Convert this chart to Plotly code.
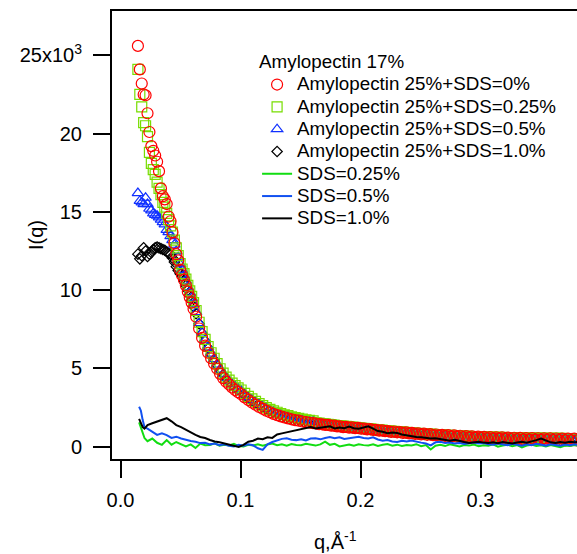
# SANS curves: Amylopectin 25% with SDS, plus SDS-only baselines
import plotly.graph_objects as go

# q grid of the sample curves (1/A)
q_pts = [0.0145, 0.0161, 0.0177, 0.0193, 0.0209, 0.0225, 0.0241, 0.0257, 0.0273, 0.0289,
         0.0305, 0.0321, 0.0337, 0.0353, 0.0369, 0.0385, 0.0401, 0.0417, 0.0433, 0.0449,
         0.0465, 0.0481, 0.0497, 0.0513, 0.0529, 0.0545, 0.0561, 0.0577, 0.0593, 0.0609,
         0.0630, 0.0655, 0.0680, 0.0705, 0.0730, 0.0755, 0.0780, 0.0805, 0.0830, 0.0855,
         0.0880, 0.0905, 0.0930, 0.0955, 0.0980, 0.1005, 0.1035, 0.1065, 0.1095, 0.1125,
         0.1155, 0.1185, 0.1215, 0.1245, 0.1275, 0.1305, 0.1335, 0.1365, 0.1395, 0.1425,
         0.1455, 0.1485, 0.1515, 0.1545, 0.1575, 0.1605,
         0.163, 0.1655, 0.168, 0.1705, 0.173, 0.1755, 0.178, 0.1805, 0.183, 0.1855,
         0.188, 0.1905, 0.193, 0.1955, 0.198, 0.2005, 0.203, 0.2055, 0.208, 0.2105,
         0.213, 0.2155, 0.218, 0.2205, 0.223, 0.2255, 0.228, 0.2305, 0.233, 0.2355,
         0.238, 0.2405, 0.243, 0.2455, 0.248, 0.2505, 0.253, 0.2555, 0.258, 0.2605,
         0.263, 0.2655, 0.268, 0.2705, 0.273, 0.2755, 0.278, 0.2805, 0.283, 0.2855,
         0.288, 0.2905, 0.293, 0.2955, 0.298, 0.3005, 0.303, 0.3055, 0.308, 0.3105,
         0.313, 0.3155, 0.318, 0.3205, 0.323, 0.3255, 0.328, 0.3305, 0.333, 0.3355,
         0.338, 0.3405, 0.343, 0.3455, 0.348, 0.3505, 0.353, 0.3555, 0.358, 0.3605,
         0.363, 0.3655, 0.368, 0.3705, 0.373, 0.3755, 0.378, 0.3805]

sds_0 = [25600, 24100, 23200, 22500, 22450, 21300, 20100, 19200, 18900, 18600,
         18200, 17600, 16500, 16000, 15800, 15500, 14700, 14400, 13700, 13000,
         12300, 11900, 11300, 10950, 10650, 10300, 9900, 9550, 9200, 8800,
         8300, 7550, 6950, 6450, 6000, 5650, 5300, 4980, 4650, 4380,
         4150, 3970, 3780, 3620, 3480, 3350, 3150, 2980, 2820, 2680,
         2540, 2420, 2300, 2200, 2100, 2020, 1940, 1870, 1810, 1750,
         1700, 1660, 1610, 1570, 1530, 1500,
         1480, 1440, 1430, 1390, 1390, 1340, 1340, 1300, 1300, 1250,
         1260, 1220, 1230, 1180, 1200, 1150, 1160, 1110, 1120, 1070,
         1080, 1030, 1040, 990, 1000, 950, 970, 920, 940, 880,
         910, 850, 880, 820, 850, 790, 830, 760, 800, 740,
         780, 710, 760, 690, 740, 660, 720, 640, 700, 620,
         680, 600, 660, 580, 640, 560, 630, 550, 610, 530,
         600, 520, 590, 500, 580, 490, 570, 480, 560, 470,
         550, 460, 545, 450, 540, 440, 535, 430, 530, 425,
         525, 420, 520, 410, 515, 410, 510, 400]

sds_025 = [24100, 22500, 21700, 20700, 20500, 19800, 18800, 18100, 17700, 17400,
           16900, 16500, 16100, 15600, 15300, 14900, 14500, 14100, 13700, 13200,
           12700, 12200, 11700, 11350, 11050, 10700, 10300, 9950, 9600, 9200,
           8700, 7950, 7350, 6850, 6400, 6000, 5650, 5300, 4980, 4700,
           4450, 4250, 4060, 3900, 3760, 3620, 3400, 3220, 3050, 2900,
           2750, 2620, 2500, 2390, 2290, 2200, 2120, 2040, 1980, 1910,
           1860, 1810, 1760, 1720, 1680, 1650,
           1530, 1505, 1480, 1455, 1430, 1405, 1380, 1355, 1335, 1315,
           1295, 1275, 1255, 1235, 1215, 1195, 1175, 1155, 1135, 1115,
           1095, 1075, 1055, 1035, 1015, 995, 978, 961, 944, 927,
           910, 895, 880, 865, 850, 836, 823, 810, 798, 786,
           774, 762, 750, 739, 728, 717, 707, 697, 687, 678,
           669, 660, 652, 644, 637, 630, 623, 617, 611, 605,
           600, 595, 590, 585, 580, 576, 572, 568, 564, 560,
           557, 554, 551, 548, 545, 542, 539, 537, 535, 533,
           531, 529, 527, 525, 523, 521, 520, 518]

sds_05 = [16200, 15700, 15600, 15500, 15900, 15500, 15200, 15100, 14900, 14800,
          14750, 14650, 14500, 14350, 14200, 13850, 13700, 13450, 13200, 12900,
          12500, 12100, 11650, 11300, 10950, 10600, 10200, 9850, 9500, 9100,
          8600, 7900, 7300, 6800, 6350, 5950, 5600, 5250, 4930, 4650,
          4400, 4200, 4010, 3850, 3710, 3570, 3350, 3170, 3000, 2850,
          2700, 2570, 2450, 2340, 2240, 2150, 2070, 1990, 1930, 1860,
          1810, 1760, 1710, 1670, 1630, 1600,
          1515, 1490, 1465, 1440, 1415, 1390, 1365, 1340, 1320, 1300,
          1280, 1260, 1240, 1220, 1200, 1180, 1160, 1140, 1120, 1100,
          1080, 1060, 1040, 1020, 1000, 980, 963, 946, 929, 912,
          895, 880, 865, 850, 835, 821, 808, 795, 783, 771,
          759, 747, 735, 724, 713, 702, 692, 682, 672, 663,
          654, 645, 637, 629, 622, 615, 608, 602, 596, 590,
          585, 580, 575, 570, 565, 561, 557, 553, 549, 545,
          542, 539, 536, 533, 530, 527, 524, 522, 520, 518,
          516, 514, 512, 510, 508, 506, 505, 503]

sds_10 = [12300, 12000, 12200, 12700, 12500, 12150, 12300, 12400, 12600, 12700,
          12750, 12700, 12650, 12600, 12550, 12450, 12350, 12300, 12050, 11800,
          11500, 11250, 11050, 10900, 10600, 10300, 10000, 9650, 9300, 8950,
          8500, 7850, 7250, 6750, 6300, 5900, 5550, 5200, 4880, 4600,
          4350, 4150, 3960, 3800, 3660, 3520, 3300, 3120, 2960, 2810,
          2670, 2540, 2420, 2310, 2210, 2120, 2040, 1960, 1900, 1830,
          1780, 1730, 1680, 1640, 1600, 1570,
          1495, 1470, 1445, 1420, 1395, 1370, 1345, 1320, 1300, 1280,
          1260, 1240, 1220, 1200, 1180, 1160, 1140, 1120, 1100, 1080,
          1060, 1040, 1020, 1000, 980, 960, 943, 926, 909, 892,
          875, 860, 845, 830, 815, 801, 788, 775, 763, 751,
          739, 727, 715, 704, 693, 682, 672, 662, 652, 643,
          634, 625, 617, 609, 602, 595, 588, 582, 576, 570,
          565, 560, 555, 550, 545, 541, 537, 533, 529, 525,
          522, 519, 516, 513, 510, 507, 504, 502, 500, 498,
          496, 494, 492, 490, 488, 486, 485, 483]

# q grid of the SDS-only solvent curves
q_sds = [0.0155, 0.0170, 0.0185, 0.0200, 0.0225, 0.0265, 0.0305, 0.0345, 0.0385, 0.0425,
         0.0465, 0.0505, 0.0545, 0.0585, 0.0625, 0.0665, 0.0705, 0.0745, 0.0785, 0.0825,
         0.0865, 0.0905, 0.0945, 0.0985, 0.1025, 0.1065, 0.1105, 0.1145, 0.1185, 0.1225,
         0.1265, 0.1305, 0.1345, 0.1385, 0.1425, 0.1465, 0.1505, 0.1545, 0.1585, 0.1625,
         0.1665, 0.1705, 0.1745, 0.1785, 0.1825, 0.1865, 0.1905, 0.1945, 0.1985, 0.2025,
         0.2065, 0.2105, 0.2145, 0.2185, 0.2225, 0.2265, 0.2305, 0.2345, 0.2385, 0.2425,
         0.2465, 0.2505, 0.2545, 0.2585, 0.2625, 0.2665, 0.2705, 0.2745, 0.2785, 0.2825,
         0.2865, 0.2905, 0.2945, 0.2985, 0.3025, 0.3065, 0.3105, 0.3145, 0.3185, 0.3225,
         0.3265, 0.3305, 0.3345, 0.3385, 0.3425, 0.3465, 0.3505, 0.3545, 0.3585, 0.3625,
         0.3665, 0.3705, 0.3745, 0.3785, 0.3825]

only_025 = [1550, 1250, 900, 550, 350, 520, 250, 120, 420, 130,
            300, 180, 20, 150, -80, 200, 90, 110, 210, 60,
            130, 80, 190, 40, 10, 120, 80, 160, 60, 140,
            200, 90, 150, 60, 170, 110, 90, 180, 120, 70,
            150, 320, 120, 180, 20, 90, 140, 60, 160, 100,
            80, 150, 50, 120, 170, 60, 130, 40, 110, 80,
            160, 30, 100, -180, 60, 120, 40, 150, 90, 20,
            110, 70, 140, 30, 90, 60, 150, 0, 80, 120,
            30, 100, -50, 70, 130, 40, 90, 20, 110, 60,
            -30, 80, 40, 100, 50]

only_05 = [2550, 2300, 1700, 1250, 1150, 950, 750, 850, 740, 560,
           640, 520, 430, 360, 320, 230, 250, 150, 200, 100,
           160, 60, 20, 120, 60, 150, 90, -100, -200, 150,
           300, 420, 500, 540, 450, 420, 480, 400, 520, 540,
           470, 560, 620, 540, 600, 500, 560, 610, 640, 560,
           520, 600, 460, 380, 420, 330, 300, 380, 340, 400,
           310, 260, 200, 80, 280, 320, 230, 270, 200, 240,
           180, 220, 260, 200, 240, 160, 130, 200, 140, 90,
           180, 120, 60, 150, 100, 180, 130, 70, 160, 110,
           60, 140, 90, 150, 110]

only_10 = [1780, 1450, 1250, 1150, 1380, 1500, 1600, 1720, 1820, 1620,
           1380, 1250, 1070, 900, 760, 620, 550, 430, 330, 280,
           200, 150, 60, -20, 120, 320, 380, 520, 480, 600,
           560, 780, 850, 920, 980, 1050, 1120, 1180, 1250, 1170,
           1200, 1260, 1300, 1170, 1230, 1180, 1280, 1180, 1150, 1220,
           1300, 1150, 1000, 950, 860, 900, 880, 780, 720, 680,
           620, 600, 560, 520, 540, 480, 420, 380, 440, 350,
           300, 240, 280, 320, 260, 230, 280, 220, 300, 250,
           200, 270, 320, 260, 330, 420, 520, 380, 280, 230,
           300, 250, 310, 280, 320]

for ys in (sds_0, sds_025, sds_05, sds_10):
    assert len(ys) == len(q_pts), (len(ys), len(q_pts))
for ys in (only_025, only_05, only_10):
    assert len(ys) == len(q_sds), (len(ys), len(q_sds))

FONT = "Liberation Sans, Arial, sans-serif"


def big(s):
    # legend spacing follows the base legend font, the text itself is drawn larger
    return '<span style="font-size:18.8px">' + s + '</span>'


fig = go.Figure()

# markers: black first so red ends up on top; legend order set by legendrank
fig.add_trace(go.Scatter(x=q_pts, y=sds_10, mode="markers", name=big("Amylopectin 25%+SDS=1.0%"),
                         legendrank=4,
                         marker=dict(symbol="diamond-open", size=8, color="black", line=dict(width=1.2))))
fig.add_trace(go.Scatter(x=q_pts, y=sds_05, mode="markers", name=big("Amylopectin 25%+SDS=0.5%"),
                         legendrank=3,
                         marker=dict(symbol="triangle-up-open", size=10, color="#1030FF", line=dict(width=1.2))))
fig.add_trace(go.Scatter(x=q_pts, y=sds_025, mode="markers", name=big("Amylopectin 25%+SDS=0.25%"),
                         legendrank=2,
                         marker=dict(symbol="square-open", size=10, color="#77DD00", line=dict(width=1.2))))
fig.add_trace(go.Scatter(x=q_pts, y=sds_0, mode="markers", name=big("Amylopectin 25%+SDS=0%"),
                         legendrank=1,
                         marker=dict(symbol="circle-open", size=11, color="#FF0000", line=dict(width=1.2))))

fig.add_trace(go.Scatter(x=q_sds, y=only_025, mode="lines", name=big("SDS=0.25%"), legendrank=5,
                         line=dict(color="#11DD11", width=2)))
fig.add_trace(go.Scatter(x=q_sds, y=only_05, mode="lines", name=big("SDS=0.5%"), legendrank=6,
                         line=dict(color="#1150F0", width=2)))
fig.add_trace(go.Scatter(x=q_sds, y=only_10, mode="lines", name=big("SDS=1.0%"), legendrank=7,
                         line=dict(color="black", width=2)))

fig.update_layout(
    width=577, height=554,
    margin=dict(l=112, r=0, t=11, b=95),
    paper_bgcolor="white", plot_bgcolor="white",
    font=dict(family=FONT, size=18, color="black"),
    showlegend=True,
    legend=dict(x=0.312, y=0.915, xanchor="left", yanchor="top",
                bgcolor="rgba(0,0,0,0)", font=dict(size=14.85),
                title=dict(text=big("Amylopectin 17%"), font=dict(size=14.85)),
                tracegroupgap=0),
    xaxis=dict(range=[-0.00708, 0.3804], showgrid=False, zeroline=False,
               showline=True, linecolor="black", linewidth=2, mirror=True,
               ticks="outside", ticklen=17, tickwidth=2, tickcolor="black",
               tickvals=[0, 0.1, 0.2, 0.3], ticktext=["0.0", "0.1", "0.2", "0.3"],
               tickfont=dict(size=20), ticklabelstandoff=5),
    yaxis=dict(range=[-786, 27830], showgrid=False, zeroline=False,
               showline=True, linecolor="black", linewidth=2,
               ticks="outside", ticklen=17, tickwidth=2, tickcolor="black",
               tickvals=[0, 5000, 10000, 15000, 20000, 25000],
               ticktext=["0", "5", "10", "15", "20", "25x10<sup>3</sup>"],
               tickfont=dict(size=20), ticklabelstandoff=7),
    annotations=[
        dict(text="I(q)", textangle=-90, x=-0.1634, y=0.5, xref="paper", yref="paper",
             xanchor="center", yanchor="middle", showarrow=False, font=dict(size=20)),
        dict(text="q,Å<sup>-1</sup>", x=0.4796, y=-0.183, xref="paper", yref="paper",
             xanchor="center", yanchor="middle", showarrow=False, font=dict(size=20)),
    ],
)

# the page's default body margin would shift the figure
fig.write_html("out.html", config={"displayModeBar": False},
               post_script="document.body.style.margin='0';")
